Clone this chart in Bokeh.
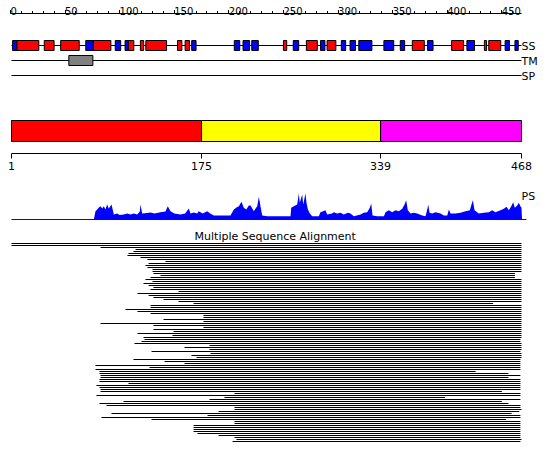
import numpy as np
from bokeh.plotting import figure
from bokeh.models import Range1d, ColumnDataSource
from bokeh.core.properties import value
from bokeh.embed import file_html
from bokeh.resources import INLINE

# ---------------- data ----------------
SEQ_LEN = 468
ruler_ticks = list(range(0, 461, 10))
ruler_labels = list(range(0, 451, 50))

# secondary structure elements (H = helix red, E = strand blue)
ss_start = [2, 6, 31, 46, 69, 76, 96, 105, 108, 119, 124, 153, 160, 166, 205, 213, 221,
            250, 259, 271, 284, 290, 303, 311, 319, 342, 357, 368, 382, 404, 418, 434, 438, 453, 462]
ss_end = [6, 26, 40, 63, 76, 92, 101, 108, 113, 122, 143, 157, 164, 170, 210, 219, 227,
          253, 264, 281, 288, 298, 307, 316, 331, 351, 361, 379, 387, 415, 425, 436, 449, 457, 465]
ss_type = ["E", "H", "H", "H", "E", "H", "E", "E", "H", "H", "H", "H", "H", "E", "E", "E", "E",
           "H", "E", "H", "E", "H", "E", "E", "E", "E", "E", "H", "E", "H", "E", "H", "H", "E", "E"]

tm_start = [53.5]
tm_end = [75.5]

dom_start = [1, 175, 339]
dom_end = [175, 339, 468]
dom_color = ["#FF0000", "#FFFF00", "#FF00FF"]
dom_ticks = [1, 175, 339, 468]

# PS profile (residue, score)
ps_res = [76.4, 77.9, 79.5, 81, 82.5, 84.1, 85.5, 87, 88.6, 90.1, 92.6, 94.7, 97.8, 100, 103.8, 107, 110, 113,
          116.1, 118.5, 119.1, 120.7, 125.3, 128.3, 132, 137.4, 142, 144.1, 146.6, 150, 155.8, 160, 163.4, 164.9,
          168, 171, 172.5, 176, 180.2, 183, 186.3, 195.4, 201.5, 204.6, 207, 209.2, 211.6, 213.7, 216, 218.3,
          219.9, 222.9, 224.5, 226, 227.5, 229, 230.6, 235.2, 247.3,
          256.5, 257.1, 259.5, 262.6, 264.1, 265, 267.2, 268.1, 270.2, 271.1, 272.4, 274.2, 276.4, 282.4, 283.9,
          286.4, 288.5, 290.1, 294.6, 296.1, 299.2, 302.3, 305.3, 309, 311.4, 314.5, 320.6, 323.6, 326.7, 329.1,
          330.4, 331.6, 335.9, 342, 343.5, 346.5, 349.6, 352.6, 355.7, 358.8, 360.9, 362.4, 363.9, 366.4, 369.4,
          372.5, 377.1, 380.1, 381.7, 382.6, 383.8, 386.2, 389.3, 393.9, 396.9, 400, 401.5, 403, 407.6, 412.2,
          416.8, 420.7, 422.2, 423.5, 425, 428.9, 433.5, 438.1, 441.2, 444.2, 448.8, 451.8, 454.3, 456.4, 458.6,
          460.4, 461.9, 464.1, 465.5, 467, 468, 468.5]
ps_val = [0, 8.3, 10, 12, 13.3, 11, 13.3, 10, 15, 11, 15, 5, 6, 4.5, 5, 6, 5, 6,
          5, 8, 15, 6, 6.5, 7, 6, 7.3, 8, 13.3, 8.3, 6, 5, 6, 11, 6,
          7, 6, 8.3, 6, 8.3, 6, 4, 4, 4, 10, 12, 13.3, 17.7, 11.7, 10, 14,
          14, 8.3, 11, 13.3, 22.7, 13.3, 4, 3.3, 3.3,
          3.3, 11.7, 13.3, 15, 26, 16.7, 25, 15, 26, 16.7, 10, 6, 3.3, 3.3, 7.3,
          8.3, 9.3, 5, 6, 7.3, 6, 6.7, 5, 6.7, 6, 3.3, 5, 6.7, 7.3, 11.7,
          16, 4, 3.3, 3.3, 7.3, 9.3, 7.3, 9.3, 8.3, 10.7, 15, 19.3, 9.3, 6, 6.7,
          6, 4, 3.3, 10, 15, 6.7, 6, 7.3, 6, 4, 4, 10, 6, 6, 6.7,
          8.3, 9.3, 15, 19.3, 9.3, 6, 6.7, 7.3, 9.3, 7.3, 9.3, 10.7, 12.7, 9.3, 13.3,
          17.3, 11.7, 14, 16.7, 13.3, 11.7, 0]

# multiple sequence alignment: aligned start / end residue per sequence
msa_start = [1, 1, 82.5, 114.6, 112.7, 108.1, 107.2, 119.1, 125.5, 142, 126.5, 123.7, 125.5, 130.1, 130.1,
             131, 137.4, 128.3, 123.7, 130.1, 121.9, 126.5, 131, 128.3, 153.9, 116.4, 126.5, 131, 140.2, 153.9,
             167.7, 128.3, 128.3, 105.4, 116.4, 128.3, 176.8, 176.8, 140.2, 176.8, 82.5, 131, 176.8, 131, 149.4,
             116.4, 148.4, 121.9,
             122.8, 120, 113.6, 182.3, 159.4, 182.3, 129.2, 183.2, 165.8, 170.4, 112.7, 141.1, 159.4, 77.9, 127.4,
             77.9, 81.6, 81.6, 82.5, 82.5, 81.6, 81.6, 108.1, 78.8, 81.6, 82.5, 82.5, 205.2, 78.8, 196, 182.3,
             103.6, 81.6, 88, 205.2, 205.2, 190.6, 92.6, 180.5, 83.4, 129.2, 205.2, 205.2, 167.7, 167.7, 167.7,
             167.7, 171.3, 190.6, 205.2, 207, 203.4]
msa_end = [468, 468, 468, 468, 468, 468, 468, 468, 468, 468, 468, 468, 468, 468, 468,
           462, 462, 462, 468, 468, 468, 468, 468, 468, 468, 468, 468, 468, 468, 468,
           442, 468, 468, 468, 468, 468, 468, 468, 468, 468, 468, 468, 468, 468, 468,
           468, 468, 468,
           467, 467, 468, 468, 468, 468, 467, 468, 468, 468, 467, 467, 467, 467, 467,
           467, 426, 456, 467, 456, 467, 467, 467, 467, 467, 467, 450, 467, 467, 398, 467,
           450, 456, 467, 467, 468, 466, 459, 467, 467, 454, 467, 467, 467, 467, 467,
           467, 467, 467, 467, 468, 467]

# ---------------- layout ----------------
W, H = 550, 465
S = 510 / 467.0            # pixels per residue
X0 = 1 - 11 / S            # residue at left edge of canvas (residue 1 at x=11)
FONT = value("DejaVu Sans")


def snap(r):
    """residue coordinate moved to the nearest whole screen pixel (crisp 1-px ticks)"""
    return X0 + round((r - X0) * S) / S


p = figure(width=W, height=H, x_range=Range1d(X0, X0 + W / S), y_range=Range1d(H, 0),
           output_backend="svg", toolbar_location=None, min_border=0,
           x_axis_type=None, y_axis_type=None)
p.grid.visible = False
p.outline_line_color = None
p.background_fill_color = "white"
p.border_fill_color = "white"

PS_BASE = 219
p.extra_y_ranges = {"ps": Range1d(PS_BASE - H, PS_BASE)}

# ---- top ruler
RY = 13
p.segment(x0=[0], x1=[SEQ_LEN], y0=[RY], y1=[RY], line_color="black", line_width=1)
maj = [snap(t) for t in ruler_ticks if t % 50 == 0]
mnr = [snap(t) for t in ruler_ticks if t % 50 != 0]
p.segment(x0=maj, x1=maj, y0=[RY] * len(maj), y1=[9.5] * len(maj), line_color="black", line_width=1)
p.segment(x0=mnr, x1=mnr, y0=[RY] * len(mnr), y1=[10.5] * len(mnr), line_color="black", line_width=1)
p.text(x=ruler_labels, y=[10] * len(ruler_labels), text=[str(v) for v in ruler_labels],
       text_font=FONT, text_font_size="10px", text_align="left", text_baseline="alphabetic",
       text_color="black")

# ---- SS / TM / SP tracks
SSY, TMY, SPY = 45, 60, 75
for yy in (SSY, TMY, SPY):
    p.segment(x0=[1], x1=[SEQ_LEN], y0=[yy], y1=[yy], line_color="black", line_width=1)

ss_src = ColumnDataSource(dict(
    left=ss_start, right=ss_end,
    color=["#FF0000" if t == "H" else "#0000FF" for t in ss_type]))
p.quad(left="left", right="right", top=40, bottom=50, fill_color="color",
       line_color="black", line_width=1, source=ss_src)
p.quad(left=tm_start, right=tm_end, top=55, bottom=65, fill_color="#808080",
       line_color="black", line_width=1)
p.text(x=[SEQ_LEN] * 3, y=[SSY + 0.5, TMY + 0.5, SPY + 0.5], text=["SS", "TM", "SP"], text_font=FONT,
       text_font_size="11px", text_align="left", text_baseline="middle", text_color="black")

# ---- domains
p.quad(left=dom_start, right=dom_end, top=120, bottom=141, fill_color=dom_color,
       line_color="black", line_width=1)
DY = 153
p.segment(x0=[1], x1=[SEQ_LEN], y0=[DY], y1=[DY], line_color="black", line_width=1)
dt = [snap(t) for t in dom_ticks]
p.segment(x0=dt, x1=dt, y0=[DY] * 4, y1=[158] * 4, line_color="black", line_width=1)
p.text(x=dom_ticks, y=[161] * 4, text=[str(v) for v in dom_ticks], text_font=FONT,
       text_font_size="11px", text_align="center", text_baseline="top", text_color="black")

# ---- PS profile
p.varea(x=ps_res, y1=[0] * len(ps_res), y2=ps_val, y_range_name="ps", fill_color="#0000FF")
p.segment(x0=[1], x1=[SEQ_LEN + 4.5], y0=[0], y1=[0], y_range_name="ps", line_color="#0000FF", line_width=1)
p.text(x=[SEQ_LEN], y=[23], text=["PS"], y_range_name="ps", text_font=FONT, text_font_size="11px",
       text_align="left", text_baseline="middle", text_color="black")

# ---- MSA (one 1-px line per aligned sequence, 2-px pitch)
p.text(x=[(1 + SEQ_LEN) / 2.0 + 8], y=[235.5], text=["Multiple Sequence Alignment"], text_font=FONT,
       text_font_size="11px", text_align="center", text_baseline="middle", text_color="black")
MSA_Y0, MSA_PITCH = 243, 2
row_y = [MSA_Y0 + MSA_PITCH * k for k in range(len(msa_start))]
msa_src = ColumnDataSource(dict(x0=msa_start, x1=msa_end, y=row_y))
p.segment(x0="x0", x1="x1", y0="y", y1="y", source=msa_src, line_color="black", line_width=1)

open("out.html", "w").write(file_html(p, INLINE))
